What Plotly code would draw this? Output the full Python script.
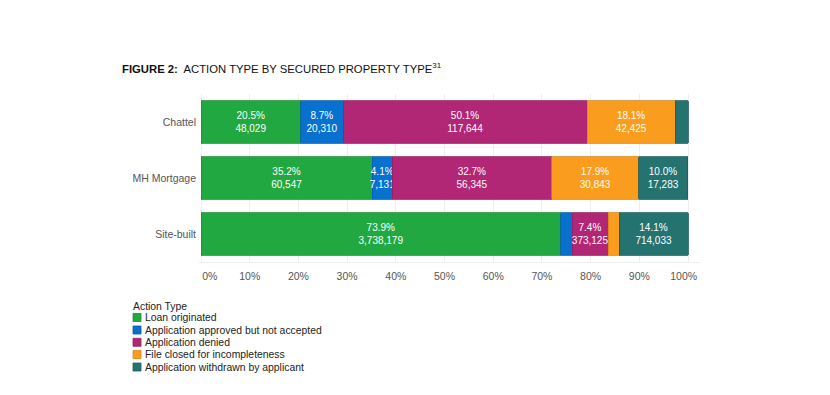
import plotly.graph_objects as go

categories = ["Chattel", "MH Mortgage", "Site-built"]
series_names = [
    "Loan originated",
    "Application approved but not accepted",
    "Application denied",
    "File closed for incompleteness",
    "Application withdrawn by applicant",
]
colors = ["#21A840", "#0870CE", "#B12675", "#FA9C1E", "#247371"]
edge_colors = ["#1B8E36", "#065EAE", "#951F62", "#D88616", "#1C5D5B"]

# percent shares per series (Chattel, MH Mortgage, Site-built)
pct_loan = [20.5, 35.2, 73.9]
pct_approved = [8.7, 4.1, 2.3]
pct_denied = [50.1, 32.7, 7.4]
pct_closed = [18.1, 17.9, 2.3]
pct_withdrawn = [2.6, 10.0, 14.1]

cnt_loan = [48029, 60547, 3738179]
cnt_approved = [20310, 7131, 118500]
cnt_denied = [117644, 56345, 373125]
cnt_closed = [42425, 30843, 116500]
cnt_withdrawn = [6100, 17283, 714033]

pcts = [pct_loan, pct_approved, pct_denied, pct_closed, pct_withdrawn]
cnts = [cnt_loan, cnt_approved, cnt_denied, cnt_closed, cnt_withdrawn]
label_min_pct = 4.0

x_ticks = [0, 10, 20, 30, 40, 50, 60, 70, 80, 90, 100]
x_ticklabels = ["0%", "10%", "20%", "30%", "40%", "50%", "60%", "70%", "80%", "90%", "100%"]

NB = "\u00a0"
x_ticktext = list(x_ticklabels)
x_ticktext[0] = NB * 6 + x_ticktext[0]
x_ticktext[-1] = x_ticktext[-1] + NB * 3

# page offset (body margin) and figure geometry
OFF = 8
W, H = 830 - 2 * OFF, 395 - 2 * OFF
# panel in page pixels: x 199..700, y 94..262
ML = 199 - OFF
MT = 94 - OFF
MR = W - (700 - OFF)
MB = H - (262 - OFF)
PW, PH = W - ML - MR, H - MT - MB

def px2paper(px, py):
    fx, fy = px - OFF, py - OFF
    return (fx - ML) / PW, (H - MB - fy) / PH

fig = go.Figure()
for name, col, ecol, p, c in zip(series_names, colors, edge_colors, pcts, cnts):
    texts = [f"{pv:.1f}%<br>{cv:,}" if pv >= label_min_pct else "" for pv, cv in zip(p, c)]
    fig.add_trace(go.Bar(
        y=categories, x=p, name=name, orientation="h",
        marker=dict(color=col, line=dict(color=ecol, width=0.8)),
        text=texts, textposition="inside", insidetextanchor="middle",
        textangle=0, constraintext="none",
        textfont=dict(color="white", size=10, family="Liberation Sans, Arial, sans-serif"),
        showlegend=False, hoverinfo="skip",
    ))

fig.update_layout(
    width=W, height=H, barmode="stack", bargap=0.24,
    margin=dict(l=ML, r=MR, t=MT, b=MB, pad=0),
    paper_bgcolor="white", plot_bgcolor="white",
    font=dict(family="Liberation Sans, Arial, sans-serif", color="#555555"),
    xaxis=dict(range=[-0.41, 102.46], tickvals=x_ticks, ticktext=x_ticktext,
               showgrid=True, gridcolor="#EEEEEE", gridwidth=1, zeroline=False,
               showline=True, linecolor="#EEEEEE", linewidth=1,
               tickfont=dict(size=10.5, color="#555555"), ticks="", ticklabelstandoff=4),
    yaxis=dict(categoryorder="array", categoryarray=categories, autorange="reversed",
               showgrid=False, zeroline=False, ticks="",
               tickfont=dict(size=10.5, color="#555555"), ticklabelstandoff=2),
)

# Title
tx, ty = px2paper(120, 68)
fig.add_annotation(
    x=tx, y=ty, xref="paper", yref="paper", xanchor="left", yanchor="middle",
    text="<b>FIGURE 2:</b>  ACTION TYPE BY SECURED PROPERTY TYPE<sup>31</sup>",
    showarrow=False, font=dict(size=11.3, color="#111111"),
)

# Legend (manual, compact)
lx, ly = px2paper(131, 306)
fig.add_annotation(x=lx, y=ly, xref="paper", yref="paper", xanchor="left", yanchor="middle",
                   text="Action Type", showarrow=False, font=dict(size=10.4, color="#222222"))
item_y = [317.5, 330, 342.3, 354.5, 367]
for name, col, ecol, iy in zip(series_names, colors, edge_colors, item_y):
    x0, y0 = px2paper(133, iy - 4)
    x1, y1 = px2paper(141, iy + 4)
    fig.add_shape(type="rect", xref="paper", yref="paper", x0=x0, x1=x1, y0=y1, y1=y0,
                  fillcolor=col, line=dict(color=ecol, width=0.8))
    ax, ay = px2paper(143, iy)
    fig.add_annotation(x=ax, y=ay, xref="paper", yref="paper", xanchor="left", yanchor="middle",
                       text=name, showarrow=False, font=dict(size=10.4, color="#222222"))

fig.write_html("out.html")
